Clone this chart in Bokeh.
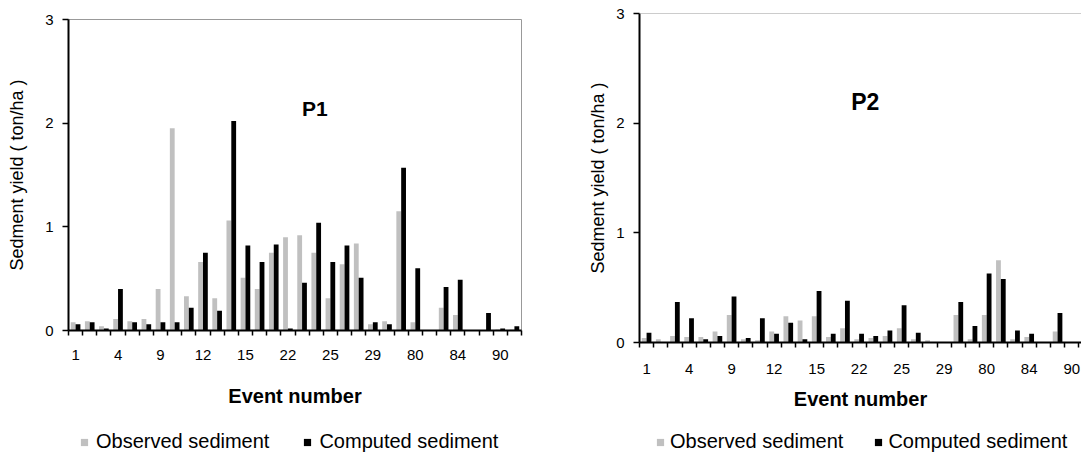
import numpy as np
from bokeh.plotting import figure
from bokeh.layouts import row, column
from bokeh.models import (Range1d, FixedTicker, Legend, LegendItem, Label, Span,
                          ColumnDataSource)
from bokeh.embed import file_html
from bokeh.resources import INLINE

# ---------------- data ----------------
events = ["1", "2", "3", "4", "5", "7", "9", "10", "11", "12", "13", "14", "15",
          "17", "20", "22", "23", "24", "25", "26", "27", "29", "30", "78", "80",
          "81", "82", "84", "85", "87", "90", "91"]

p1_observed = [0.08, 0.09, 0.04, 0.11, 0.09, 0.11, 0.40, 1.95, 0.33, 0.66, 0.31,
               1.06, 0.51, 0.40, 0.75, 0.90, 0.92, 0.75, 0.31, 0.64, 0.84, 0.06,
               0.09, 1.15, 0.08, 0.00, 0.22, 0.15, 0.00, 0.00, 0.01, 0.01]
p1_computed = [0.06, 0.08, 0.02, 0.40, 0.08, 0.06, 0.08, 0.08, 0.22, 0.75, 0.19,
               2.02, 0.82, 0.66, 0.83, 0.02, 0.46, 1.04, 0.66, 0.82, 0.51, 0.08,
               0.06, 1.57, 0.60, 0.00, 0.42, 0.49, 0.00, 0.17, 0.02, 0.04]

p2_observed = [0.04, 0.03, 0.06, 0.05, 0.05, 0.10, 0.25, 0.03, 0.02, 0.10, 0.24,
               0.20, 0.24, 0.05, 0.13, 0.03, 0.04, 0.06, 0.13, 0.03, 0.02, 0.00,
               0.25, 0.03, 0.25, 0.75, 0.03, 0.05, 0.00, 0.10, 0.00, 0.03]
p2_computed = [0.09, 0.00, 0.37, 0.22, 0.03, 0.06, 0.42, 0.04, 0.22, 0.08, 0.18,
               0.03, 0.47, 0.08, 0.38, 0.08, 0.06, 0.11, 0.34, 0.09, 0.00, 0.00,
               0.37, 0.15, 0.63, 0.58, 0.11, 0.08, 0.00, 0.27, 0.00, 0.00]

y_ticks = [0, 1, 2, 3]
label_step = 3
series_names = ["Observed sediment", "Computed sediment"]

FONT = "Liberation Sans"
OBS_COLOR = "#c0c0c0"
COMP_COLOR = "#000000"
MAIN_H = 420
LEG_H = 41


def make_chart(title, observed, computed, cfg):
    n = len(events)
    idx = np.arange(n)
    src = ColumnDataSource(dict(x_obs=idx - 0.17, x_comp=idx + 0.17,
                                observed=observed, computed=computed))
    p = figure(width=cfg["width"], height=MAIN_H, output_backend="svg",
               toolbar_location=None, tools="",
               x_range=Range1d(-0.5, cfg["x_end"]), y_range=Range1d(0, 3),
               min_border_left=cfg["mbl"], min_border_right=cfg["mbr"],
               min_border_top=cfg["mbt"],
               min_border_bottom=MAIN_H - cfg["frame_bottom"])
    p.background_fill_color = "white"
    p.border_fill_color = "white"
    p.xgrid.visible = False
    p.ygrid.visible = False
    if cfg["outline"]:
        p.outline_line_color = "#999999"
        p.outline_line_width = 1
    else:
        p.outline_line_color = None
        p.add_layout(Span(location=3, dimension="width", line_color="#999999",
                          line_width=1))

    p.vbar(x="x_obs", top="observed", width=0.34, bottom=0, source=src,
           fill_color=OBS_COLOR, line_color=None)
    p.vbar(x="x_comp", top="computed", width=0.34, bottom=0, source=src,
           fill_color=COMP_COLOR, line_color=None)

    # x axis
    major = list(range(0, n, label_step))
    xa = p.xaxis[0]
    xa.ticker = FixedTicker(ticks=major, minor_ticks=[i - 0.5 for i in range(n + 1)])
    xa.major_label_overrides = {i: events[i] for i in major}
    xa.major_tick_out = 0
    xa.major_tick_in = 0
    xa.minor_tick_out = 5
    xa.minor_tick_in = 0
    xa.minor_tick_line_color = "black"
    xa.minor_tick_line_width = 1.5
    xa.axis_line_color = "black"
    xa.axis_line_width = 2
    xa.major_label_text_font = FONT
    xa.major_label_text_font_size = "15px"
    xa.major_label_text_color = "black"
    xa.major_label_standoff = cfg["x_label_standoff"]
    xa.axis_label = "Event number"
    xa.axis_label_text_font = FONT
    xa.axis_label_text_font_style = "bold"
    xa.axis_label_text_font_size = "20px"
    xa.axis_label_text_color = "black"
    xa.axis_label_standoff = cfg["x_axis_label_standoff"]

    # y axis
    ya = p.yaxis[0]
    ya.ticker = FixedTicker(ticks=y_ticks, minor_ticks=[])
    ya.major_tick_out = 6
    ya.major_tick_in = 0
    ya.major_tick_line_width = 1.5
    ya.major_tick_line_color = "black"
    ya.axis_line_color = "black"
    ya.axis_line_width = 2
    ya.major_label_text_font = FONT
    ya.major_label_text_font_size = "15px"
    ya.major_label_text_color = "black"
    ya.major_label_standoff = 9
    ya.axis_label = "Sedment yield ( ton/ha )"
    ya.axis_label_text_font = FONT
    ya.axis_label_text_font_style = "normal"
    ya.axis_label_text_font_size = "18px"
    ya.axis_label_text_color = "black"
    ya.axis_label_standoff = cfg["y_axis_label_standoff"]

    # panel title inside plot
    p.add_layout(Label(x=cfg["title_x"], y=cfg["title_y"], text=title,
                       text_font=FONT, text_font_style="bold",
                       text_font_size=cfg["title_size"], text_align="center",
                       text_baseline="middle", text_color="black"))

    # legend strip underneath (legend-only renderers: zero-size square markers)
    lg = figure(width=cfg["width"], height=LEG_H, output_backend="svg",
                toolbar_location=None, tools="",
                x_range=Range1d(0, 1), y_range=Range1d(0, 1),
                min_border_left=cfg["mbl"], min_border_right=cfg["mbr"],
                min_border_top=0, min_border_bottom=0)
    lg.axis.visible = False
    lg.xgrid.visible = False
    lg.ygrid.visible = False
    lg.outline_line_color = None
    lg.background_fill_color = "white"
    lg.border_fill_color = "white"
    key_src = ColumnDataSource(dict(x=[0], y=[0]))
    r_obs = lg.scatter(x="x", y="y", marker="square", size=0, source=key_src,
                       fill_color=OBS_COLOR, line_color=None)
    r_comp = lg.scatter(x="x", y="y", marker="square", size=0, source=key_src,
                        fill_color=COMP_COLOR, line_color=None)
    legend = Legend(items=[LegendItem(label=series_names[0], renderers=[r_obs]),
                           LegendItem(label=series_names[1], renderers=[r_comp])],
                    orientation="horizontal", location=cfg["legend_loc"],
                    glyph_width=18, glyph_height=18,
                    label_standoff=cfg["legend_standoff"],
                    spacing=cfg["legend_spacing"], padding=0, margin=0,
                    border_line_color=None, background_fill_alpha=0,
                    label_text_font=FONT, label_text_font_size="20px",
                    label_text_color="black")
    lg.add_layout(legend)
    return column(p, lg, spacing=0)


c1 = make_chart("P1", p1_observed, p1_computed, dict(
    width=540, x_end=31.5, mbl=68, mbr=19, mbt=19, frame_bottom=330,
    outline=True, x_label_standoff=14, x_axis_label_standoff=22,
    y_axis_label_standoff=15, title_x=16.9, title_y=2.14, title_size="21px",
    legend_loc=(7, 8), legend_standoff=3, legend_spacing=29))

c2 = make_chart("P2", p2_observed, p2_computed, dict(
    width=541, x_end=30.69, mbl=99, mbr=0, mbt=13, frame_bottom=342,
    outline=False, x_label_standoff=16, x_axis_label_standoff=11,
    y_axis_label_standoff=5, title_x=15.43, title_y=2.19, title_size="23px",
    legend_loc=(12, 8), legend_standoff=1, legend_spacing=26))

layout = row(c1, c2, spacing=0)
open("out.html", "w").write(file_html(layout, INLINE))
